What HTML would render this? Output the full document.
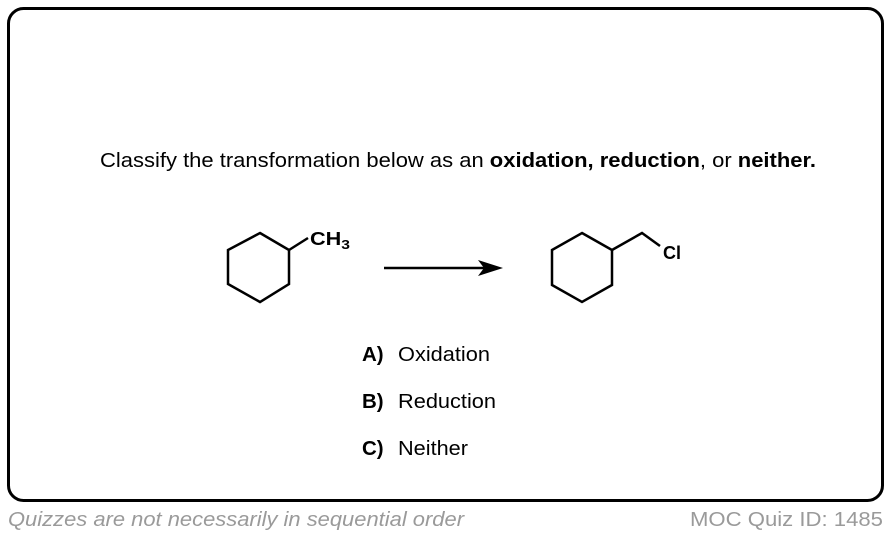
<!DOCTYPE html>
<html><head><meta charset="utf-8"><style>
html,body{margin:0;padding:0;background:#fff;width:890px;height:536px;overflow:hidden}
svg{display:block;font-family:"Liberation Sans",Arial,sans-serif}
</style></head><body>
<svg width="890" height="536" viewBox="0 0 890 536" xmlns="http://www.w3.org/2000/svg">
<rect x="8.5" y="8.5" width="874" height="492" rx="15" fill="#fff" stroke="#000" stroke-width="3"/>
<text x="100" y="167" font-size="20.5" textLength="716" lengthAdjust="spacingAndGlyphs">Classify the transformation below as an <tspan font-weight="bold">oxidation, reduction</tspan>, or <tspan font-weight="bold">neither.</tspan></text>
<g fill="none" stroke="#000" stroke-width="2.5" stroke-linejoin="miter">
<polygon points="260,233 289,250 289,284 260,302 228,284 228,250"/>
<line x1="289" y1="250" x2="308" y2="238"/>
<polygon points="582,233 612,250 612,285 582,302 552,285 552,250"/>
<polyline points="612,250 642,233 660,246"/>
<line x1="384" y1="268" x2="485" y2="268"/>
</g>
<polygon points="503,268 478,260 484,268 478,276" fill="#000"/>
<text x="310" y="245" font-size="18" font-weight="bold" textLength="40" lengthAdjust="spacingAndGlyphs">CH<tspan font-size="13" dy="4">3</tspan></text>
<text x="663" y="259" font-size="18" font-weight="bold">Cl</text>
<g font-size="20.5">
<text x="362" y="361" font-weight="bold">A)</text><text x="398" y="361" textLength="92" lengthAdjust="spacingAndGlyphs">Oxidation</text>
<text x="362" y="408" font-weight="bold">B)</text><text x="398" y="408" textLength="98" lengthAdjust="spacingAndGlyphs">Reduction</text>
<text x="362" y="455" font-weight="bold">C)</text><text x="398" y="455" textLength="70" lengthAdjust="spacingAndGlyphs">Neither</text>
</g>
<text x="8" y="526" font-size="20.5" font-style="italic" fill="#9a9a9a" textLength="456" lengthAdjust="spacingAndGlyphs">Quizzes are not necessarily in sequential order</text>
<text x="690" y="526" font-size="20.5" fill="#9a9a9a" textLength="193" lengthAdjust="spacingAndGlyphs">MOC Quiz ID: 1485</text>
</svg>
</body></html>
